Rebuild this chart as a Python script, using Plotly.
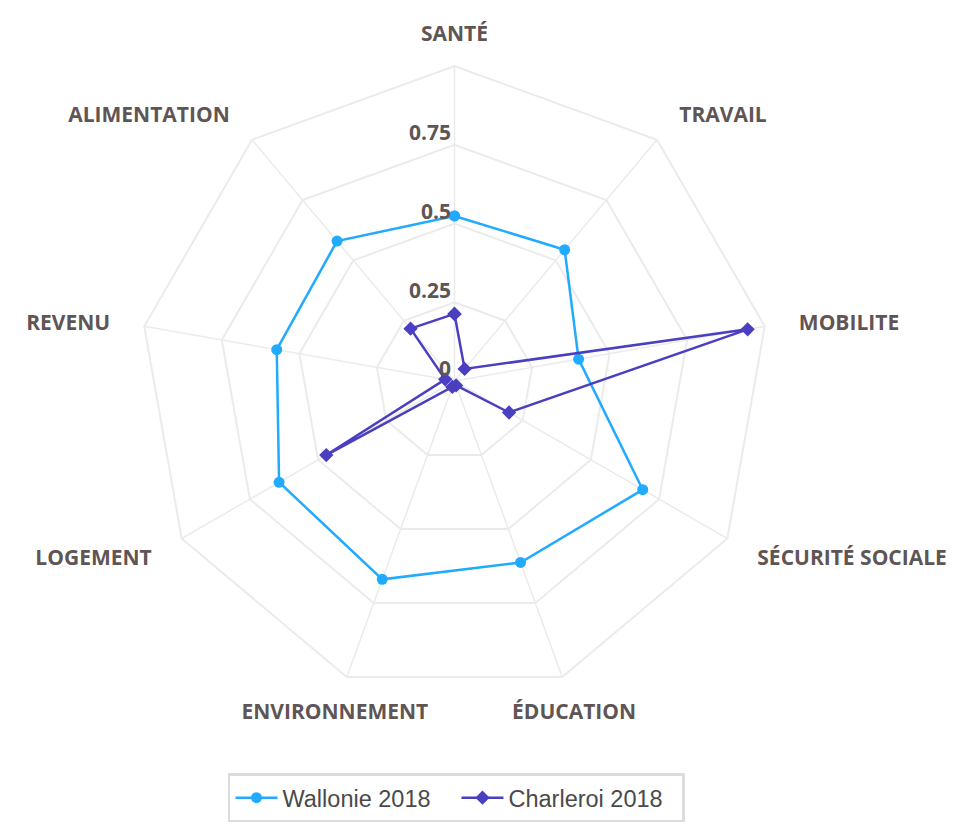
import plotly.graph_objects as go

categories = ["SANTÉ", "TRAVAIL", "MOBILITE", "SÉCURITÉ SOCIALE", "ÉDUCATION",
              "ENVIRONNEMENT", "LOGEMENT", "REVENU", "ALIMENTATION"]
wallonie_2018 = [0.524, 0.544, 0.40, 0.69, 0.613, 0.67, 0.643, 0.573, 0.58]
charleroi_2018 = [0.213, 0.05, 0.945, 0.20, 0.015, 0.02, 0.47, 0.03, 0.217]
radial_ticks = [0, 0.25, 0.5, 0.75]
radial_tick_labels = ["0", "0.25", "0.5", "0.75"]
grid_values = [0.25, 0.5, 0.75, 1.0]

label_color = "#5f5555"
label_font = dict(family="'Open Sans', Lato, sans-serif", size=21, color=label_color, weight="bold")
grid_color = "#ebebeb"
r_max = 1.13

fig = go.Figure()

# spokes of the web, from the centre to the outer ring
spoke_r, spoke_theta = [], []
for c in categories:
    spoke_r += [0, grid_values[-1], None]
    spoke_theta += [c, c, None]
fig.add_trace(go.Scatterpolar(
    r=spoke_r, theta=spoke_theta, mode="lines",
    line=dict(color=grid_color, width=1.5),
    showlegend=False, hoverinfo="skip",
))

fig.add_trace(go.Scatterpolar(
    r=wallonie_2018 + wallonie_2018[:1],
    theta=categories + categories[:1],
    name="Wallonie 2018",
    mode="lines+markers",
    line=dict(color="#22aaff", width=2.5),
    marker=dict(symbol="circle", size=11, color="#22aaff"),
    hoverinfo="skip",
))
fig.add_trace(go.Scatterpolar(
    r=charleroi_2018 + charleroi_2018[:1],
    theta=categories + categories[:1],
    name="Charleroi 2018",
    mode="lines+markers",
    line=dict(color="#4a3fc0", width=2.5),
    marker=dict(symbol="diamond", size=11, color="#4a3fc0"),
    hoverinfo="skip",
))

# radial axis labels, horizontal, just above each ring on the vertical axis
fig.add_trace(go.Scatterpolar(
    r=[max(t, 1e-3) for t in radial_ticks],
    theta=[categories[0]] * len(radial_ticks),
    mode="markers+text",
    marker=dict(size=4, opacity=0),
    text=radial_tick_labels,
    textposition="top left",
    textfont=label_font,
    cliponaxis=False,
    showlegend=False,
    hoverinfo="skip",
    subplot="polar2",
))

# category labels placed through the polar scales just outside the outer ring
label_r = 1.11
fig.add_trace(go.Scatterpolar(
    r=[label_r] * len(categories),
    theta=categories,
    mode="text",
    text=categories,
    textposition=["middle center", "middle right", "middle right", "middle right",
                  "middle center", "middle center", "middle left", "middle left",
                  "middle left"],
    textfont=label_font,
    cliponaxis=False,
    showlegend=False,
    hoverinfo="skip",
    subplot="polar2",
))

common_angular = dict(
    categoryorder="array", categoryarray=categories,
    rotation=90, direction="clockwise",
    showline=False, showgrid=False,
    ticks="", showticklabels=False,
)

fig.update_layout(
    width=951, height=819,
    margin=dict(l=0, r=0, t=0, b=0),
    paper_bgcolor="white",
    plot_bgcolor="white",
    showlegend=True,
    polar=dict(
        domain=dict(x=[0.0952, 0.8438], y=[0.1099, 0.9792]),
        bgcolor="white",
        gridshape="linear",
        angularaxis=common_angular,
        radialaxis=dict(
            range=[0, r_max], angle=90,
            tickvals=grid_values,
            showline=False, ticks="", showticklabels=False,
            gridcolor=grid_color, gridwidth=1.5,
        ),
    ),
    polar2=dict(
        domain=dict(x=[0.0952, 0.8438], y=[0.1050, 0.9743]),
        bgcolor="rgba(0,0,0,0)",
        gridshape="linear",
        angularaxis=common_angular,
        radialaxis=dict(
            range=[0, r_max], angle=90,
            showgrid=False, showline=False, ticks="", showticklabels=False,
        ),
    ),
    legend=dict(
        orientation="h", x=0.4716, xanchor="center", y=0.0655, yanchor="top",
        bordercolor="#dcdcdc", borderwidth=2.5, bgcolor="white",
        entrywidth=169, itemwidth=42,
        font=dict(family="'Liberation Sans', Arial, sans-serif", size=23.5, color="#4a4a4a"),
    ),
)

fig.write_html("out.html")
